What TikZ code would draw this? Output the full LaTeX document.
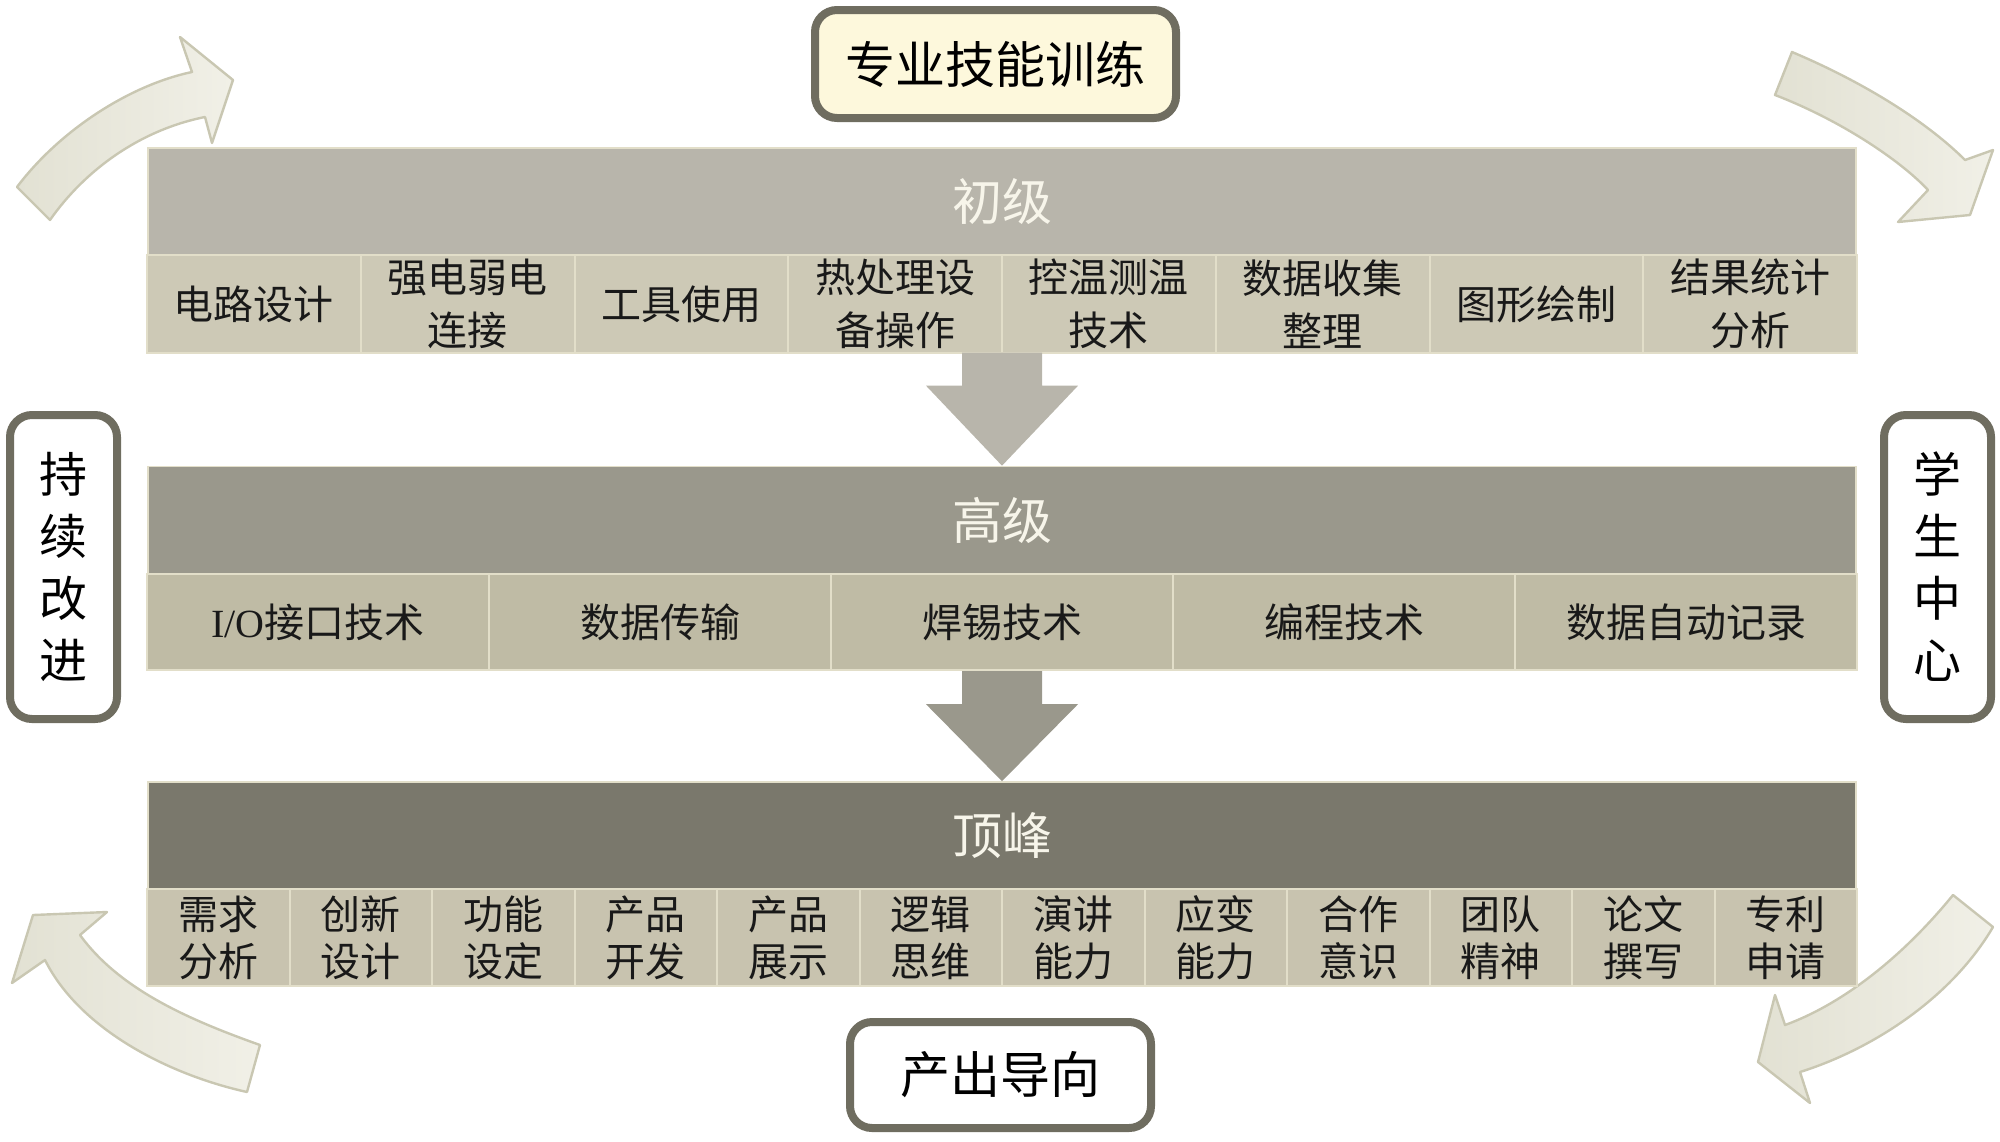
\documentclass[tikz,border=0pt]{standalone}
\usepackage{fontspec}
\newfontfamily\cjk{Noto Sans CJK SC}
\newfontfamily\latserif{Liberation Serif}
\usetikzlibrary{calc}
\definecolor{hdrA}{HTML}{B8B5AB}
\definecolor{hdrB}{HTML}{9A988C}
\definecolor{hdrC}{HTML}{7A786C}
\definecolor{cellA}{HTML}{CDC9B6}
\definecolor{cellB}{HTML}{BFBBA5}
\definecolor{cellC}{HTML}{C8C3AF}
\definecolor{celledge}{HTML}{E2DEC9}
\definecolor{hdrtext}{HTML}{F7F5EA}
\definecolor{boxedge}{HTML}{6F6D60}
\definecolor{creamfill}{HTML}{FDF8DC}
\definecolor{arrowfill}{HTML}{E2E1D3}
\definecolor{arrowlight}{HTML}{F1F0E7}
\definecolor{arrowedge}{HTML}{C9C7B2}
\begin{document}
\begin{tikzpicture}[x=0.5pt,y=-0.5pt,
  hdr/.style={fill=#1, draw=celledge, line width=0.8pt, minimum width=854pt, minimum height=53.5pt,
    inner sep=0pt, text=hdrtext, font=\cjk\fontsize{25pt}{30pt}\selectfont},
  cellbase/.style={draw=celledge, line width=1pt, inner sep=0pt, align=center, text=black!90},
  cellA/.style={cellbase, fill=cellA, minimum width=106.875pt, minimum height=49pt,
    font=\cjk\fontsize{20pt}{26.5pt}\selectfont},
  cellB/.style={cellbase, fill=cellB, minimum width=171pt, minimum height=48pt,
    font=\cjk\fontsize{20pt}{26pt}\selectfont},
  cellC/.style={cellbase, fill=cellC, minimum width=71.25pt, minimum height=48.5pt,
    font=\cjk\fontsize{20pt}{23.5pt}\selectfont},
  framebox/.style={draw=boxedge, line width=4pt, rounded corners=11pt, inner sep=0pt, align=center,
    text=black, font=\cjk\fontsize{25pt}{30pt}\selectfont},
  sidebox/.style={framebox, fill=white, minimum width=53.5pt, minimum height=152pt,
    font=\cjk\fontsize{24pt}{31pt}\selectfont},
  darrow/.style={fill=#1, draw=none},
  cornerarrow/.style={left color=arrowfill, right color=arrowlight, draw=arrowedge, line width=1.2pt, line join=round}
]
\useasboundingbox (0,0) rectangle (2000,1141);

% corner arrows
\path[cornerarrow] (50,220) -- (17,187) .. controls (60,130) and (130,85) .. (192,72)
  -- (180,37) -- (233,80) -- (212,143) -- (205,117) .. controls (140,130) and (85,170) .. (50,220) -- cycle;
\path[cornerarrow] (1792,52) .. controls (1870,85) and (1930,125) .. (1965,160)
  -- (1993,150) -- (1970,215) -- (1898,222) -- (1928,190) .. controls (1900,160) and (1840,120) .. (1775,95) -- cycle;
\path[cornerarrow] (1953,895) .. controls (1900,960) and (1840,1005) .. (1785,1025)
  -- (1775,995) -- (1758,1062) -- (1810,1103) -- (1800,1072) .. controls (1870,1050) and (1950,1000) .. (1993,927) -- cycle;
\path[cornerarrow] (260,1045) .. controls (190,1020) and (120,990) .. (80,935)
  -- (107,912) -- (33,915) -- (12,983) -- (45,960) .. controls (80,1030) and (170,1075) .. (247,1092) -- cycle;

% top and bottom boxes
\node[framebox, fill=creamfill, minimum width=180.5pt, minimum height=54pt] (top) at (995.5,64) {专业技能训练};
\node[framebox, fill=white, minimum width=150.5pt, minimum height=53pt] (bottom) at (1000.5,1075) {产出导向};

% side boxes
\node[sidebox] (left) at (63.5,567) {持\\续\\改\\进};
\node[sidebox] (right) at (1937.5,567) {学\\生\\中\\心};

% level 1
\node[hdr=hdrA] (hdr1) at (1002,201.5) {初级};
\foreach \t [count=\i] in {电路设计,{强电弱电\\连接},工具使用,{热处理设\\备操作},{控温测温\\技术},{数据收集\\整理},图形绘制,{结果统计\\分析}}
  \node[cellA] (ca\i) at ({147+213.75*(\i-0.5)},304) {\t};

% level 2
\node[hdr=hdrB] (hdr2) at (1002,520) {高级};
\foreach \t [count=\i] in {{{\latserif I/O}接口技术},数据传输,焊锡技术,编程技术,数据自动记录}
  \node[cellB] (cb\i) at ({147+342*(\i-0.5)},622) {\t};

% level 3
\node[hdr=hdrC] (hdr3) at (1002,835.5) {顶峰};
\foreach \t [count=\i] in {{需求\\分析},{创新\\设计},{功能\\设定},{产品\\开发},{产品\\展示},{逻辑\\思维},{演讲\\能力},{应变\\能力},{合作\\意识},{团队\\精神},{论文\\撰写},{专利\\申请}}
  \node[cellC] (cc\i) at ({147+142.5*(\i-0.5)},937.5) {\t};

% down arrows
\path[darrow=hdrA] (hdr2.north) -- ++(-76,-80) -- ++(36,0) -- ++(0,-33) -- ++(80,0) -- ++(0,33) -- ++(36,0) -- cycle;
\path[darrow=hdrB] (hdr3.north) -- ++(-76,-77) -- ++(36,0) -- ++(0,-33) -- ++(80,0) -- ++(0,33) -- ++(36,0) -- cycle;
\end{tikzpicture}
\end{document}
